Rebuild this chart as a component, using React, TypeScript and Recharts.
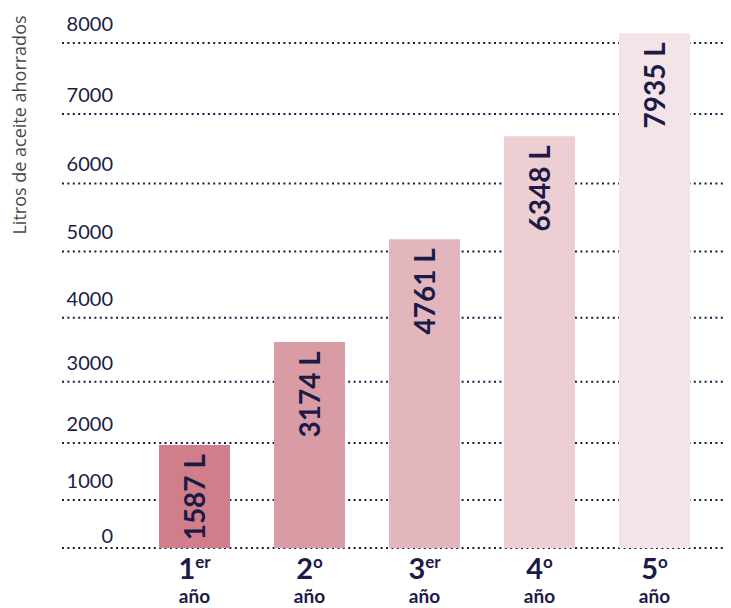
import { ComposedChart, Bar, Line, XAxis, YAxis, CartesianGrid, Cell, LabelList } from 'recharts';

const yearNumbers = ['1', '2', '3', '4', '5'];
const yearSuffixes = ['er', 'o', 'er', 'o', 'o'];
const litersSaved = [1587, 3174, 4761, 6348, 7935];
const gridTicks = [0, 1000, 2000, 3000, 4000, 5000, 6000, 7000, 8000];

const BAR_COLORS = ['#CF7E8A', '#D99BA4', '#E3B5BC', '#ECCED3', '#F4E4E7'];
const INK = '#1C1B47';
const FONT = 'Lato, "Noto Sans", sans-serif';

const chartData = yearNumbers.map((num, i) => ({
    year: num,
    suffix: yearSuffixes[i],
    liters: litersSaved[i],
}));

// the printed grid is squeezed near zero; a mild power scale follows it
const makePowScale = (exponent: number, dom: number[] = [0, 1], rng: number[] = [0, 1]): any => {
    let d = dom.slice();
    let r = rng.slice();
    const scale: any = (v: number) => {
        const t = Math.pow(Math.max(0, (Number(v) - d[0]) / (d[1] - d[0])), exponent);
        return r[0] + t * (r[1] - r[0]);
    };
    scale.domain = (nd?: any[]) => {
        if (nd === undefined) return d.slice();
        d = nd.map(Number);
        return scale;
    };
    scale.range = (nr?: any[]) => {
        if (nr === undefined) return r.slice();
        r = nr.map(Number);
        return scale;
    };
    scale.invert = (px: number) => {
        const t = (px - r[0]) / (r[1] - r[0]);
        return d[0] + Math.pow(Math.max(0, t), 1 / exponent) * (d[1] - d[0]);
    };
    scale.ticks = () => gridTicks.slice();
    scale.tickFormat = () => (v: any) => String(v);
    scale.nice = () => scale;
    scale.clamp = () => scale;
    scale.copy = () => makePowScale(exponent, d, r);
    return scale;
};

const YTick = ({ y, payload }: any) => (
    <text x={105} y={y - (payload.value === 0 ? 5 : 12)} fill={INK} fontSize={20} fontFamily={FONT} textAnchor="end">
        {payload.value}
    </text>
);

const XTick = ({ x, y, index }: any) => (
    <g>
        <text x={x} y={y + 31} fill={INK} fontFamily={FONT} fontWeight={700} textAnchor="middle">
            <tspan fontSize={29}>{yearNumbers[index]}</tspan>
            <tspan fontSize={17} dy={-11}>{yearSuffixes[index]}</tspan>
        </text>
        <text x={x} y={y + 55} fill={INK} fontFamily={FONT} fontWeight={700} fontSize={19} textAnchor="middle">
            año
        </text>
    </g>
);

const BarValue = ({ x, y, width, value }: any) => {
    const cx = x + width / 2;
    const ty = y + 9;
    return (
        <text
            x={cx}
            y={ty}
            transform={`rotate(-90, ${cx}, ${ty})`}
            textAnchor="end"
            dy="0.36em"
            fill={INK}
            fontFamily={FONT}
            fontWeight={700}
            fontSize={28}
        >
            {`${value} L`}
        </text>
    );
};

const AxisTitle = () => (
    <text
        x={12}
        y={117}
        transform="rotate(-90, 12, 117)"
        textAnchor="middle"
        dy="0.35em"
        fill="#4a4a4a"
        fontFamily='"Open Sans", sans-serif'
        fontSize={18}
    >
        Litros de aceite ahorrados
    </text>
);

export default function App() {
    return (
        <div style={{ width: 723, height: 600 }}>
            <ComposedChart width={723} height={600} data={chartData} margin={{ top: 21, right: 6, bottom: 0, left: 53 }}>
                <CartesianGrid
                    yAxisId="grid"
                    vertical={false}
                    stroke={INK}
                    strokeWidth={2}
                    strokeDasharray="2 3.4"
                    syncWithTicks
                />
                <XAxis
                    dataKey="year"
                    axisLine={false}
                    tickLine={false}
                    tickSize={0}
                    tickMargin={0}
                    height={60}
                    padding={{ left: 75, right: 13 }}
                    tick={<XTick />}
                    interval={0}
                />
                <YAxis yAxisId="bars" hide domain={[0, 8000]} />
                <YAxis
                    yAxisId="grid"
                    type="number"
                    scale={makePowScale(1.133)}
                    domain={[0, 8195]}
                    ticks={gridTicks}
                    width={1}
                    axisLine={false}
                    tickLine={false}
                    tickSize={0}
                    tickMargin={0}
                    tick={<YTick />}
                    label={<AxisTitle />}
                />
                <Bar yAxisId="bars" dataKey="liters" barSize={71} isAnimationActive={false}>
                    {chartData.map((_entry, index) => (
                        <Cell key={`cell-${index}`} fill={BAR_COLORS[index % BAR_COLORS.length]} />
                    ))}
                    <LabelList dataKey="liters" content={<BarValue />} />
                </Bar>
                <Line yAxisId="grid" dataKey="liters" stroke="none" dot={false} activeDot={false} isAnimationActive={false} />
            </ComposedChart>
        </div>
    );
}
